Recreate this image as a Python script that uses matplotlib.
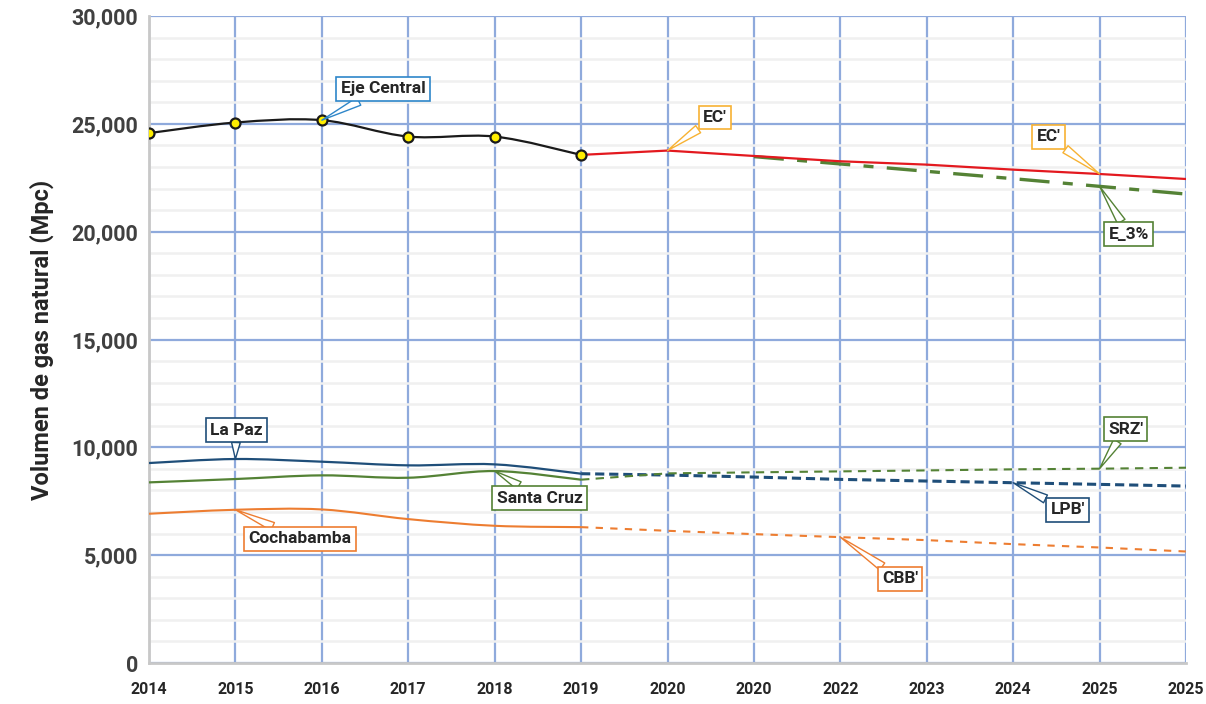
import numpy as np
import matplotlib
matplotlib.use("Agg")
import matplotlib.pyplot as plt
from matplotlib.path import Path
from matplotlib.patches import PathPatch
from matplotlib.ticker import MultipleLocator, FuncFormatter

plt.rcParams['font.family'] = ['Roboto', 'DejaVu Sans']

# category axis (as labelled in the original)
years = ["2014", "2015", "2016", "2017", "2018", "2019", "2020",
         "2020", "2022", "2023", "2024", "2025", "2025"]

# historical series (positions 0..5)
eje_central = [24570, 25060, 25170, 24410, 24410, 23560]
la_paz = [9272, 9458, 9334, 9164, 9210, 8777]
santa_cruz = [8375, 8530, 8700, 8590, 8900, 8500]
cochabamba = [6920, 7105, 7120, 6672, 6362, 6300]

# projections (positions 5..12)
ec_proj = [23560, 23760, 23510, 23264, 23108, 22876, 22674, 22442]
lpb_proj = [8777, 8715, 8622, 8514, 8437, 8359, 8282, 8204]
srz_proj = [8500, 8793, 8840, 8885, 8930, 8980, 9010, 9055]
cbb_proj = [6300, 6130, 5975, 5836, 5697, 5511, 5356, 5170]
# escenario 3% (positions 7..12)
e3_proj = [23480, 23140, 22798, 22457, 22101, 21744]

C_BLACK = "#1a1a1a"
C_RED = "#e3191f"
C_GREEN = "#548235"
C_BLUE = "#1f4e79"
C_ORANGE = "#ed7d31"
C_YELLOW = "#f7b233"
C_CALL = "#2e86c9"
GRID = "#8faadc"


def smooth_path(x, y):
    # Excel-like smoothed line as cubic bezier segments
    x = np.asarray(x, float)
    y = np.asarray(y, float)
    pts = np.column_stack([x, y])
    n = len(pts)
    verts = [pts[0]]
    codes = [Path.MOVETO]
    for i in range(n - 1):
        p0 = pts[i - 1] if i > 0 else pts[i]
        p1 = pts[i]
        p2 = pts[i + 1]
        p3 = pts[i + 2] if i + 2 < n else pts[i + 1]
        c1 = p1 + (p2 - p0) / 6.0
        c2 = p2 - (p3 - p1) / 6.0
        verts += [c1, c2, p2]
        codes += [Path.CURVE4] * 3
    return Path(verts, codes)


fig = plt.figure(figsize=(12.06, 7.04), dpi=100)
ax = fig.add_axes([149 / 1206, 41 / 704, 1037 / 1206, 647 / 704])

pos = np.arange(len(years))
h = pos[:6]

# grid
ax.yaxis.set_major_locator(MultipleLocator(5000))
ax.yaxis.set_minor_locator(MultipleLocator(1000))
ax.grid(axis='y', which='minor', color='#f0f0f0', lw=1.8, zorder=0)
ax.grid(axis='y', which='major', color=GRID, lw=1.6, zorder=0.5)
ax.set_xticks(pos)
ax.grid(axis='x', which='major', color=GRID, lw=1.6, zorder=0.5)
ax.set_axisbelow(True)

# historical smoothed lines
for vals, col, lw in [(eje_central, C_BLACK, 1.6), (la_paz, C_BLUE, 1.6),
                      (santa_cruz, C_GREEN, 1.6), (cochabamba, C_ORANGE, 1.5)]:
    ax.add_patch(PathPatch(smooth_path(h, vals), fc='none', ec=col, lw=lw, zorder=3))

# projections
ax.plot(pos[5:], ec_proj, color=C_RED, lw=1.6, zorder=3)
ax.plot(pos[7:], e3_proj, color=C_GREEN, lw=2.4, zorder=2.8,
        dashes=(9, 4, 3, 4))
ax.plot(pos[5:], lpb_proj, color=C_BLUE, lw=2.2, zorder=3, dashes=(3, 1.6))
ax.plot(pos[5:], srz_proj, color=C_GREEN, lw=1.5, zorder=3, dashes=(4, 3))
ax.plot(pos[5:], cbb_proj, color=C_ORANGE, lw=1.5, zorder=3, dashes=(3.5, 3.5))

# markers on historical Eje Central
ax.plot(h, eje_central, 'o', ms=7.2, mfc='#ffee00', mec=C_BLACK, mew=1.6, zorder=4)

ax.set_xlim(0, 12)
ax.set_ylim(0, 30000)
ax.set_xticklabels(years)
ax.tick_params(axis='x', length=0, pad=14, labelsize=11.5, labelcolor='#262626')
ax.tick_params(axis='y', which='both', length=0, pad=8, labelsize=15.5, labelcolor='#404040')
ax.yaxis.set_major_formatter(FuncFormatter(lambda v, p: f"{v:,.0f}"))
for lab in ax.get_xticklabels() + ax.get_yticklabels():
    lab.set_fontweight('bold')

for s in ['top', 'right']:
    ax.spines[s].set_visible(False)
ax.spines['left'].set_color('#c8c8c8')
ax.spines['left'].set_linewidth(2)
ax.spines['bottom'].set_color('#c8c8c8')
ax.spines['bottom'].set_linewidth(2)

ax.set_ylabel("Volumen de gas natural (Mpc)", fontsize=17, fontweight='bold',
              color='#262626', labelpad=12)

# callouts: label, target x, target y, text x, text y, colour
callouts = [
    ("Eje Central", 2, eje_central[2], 2.71, 26620, C_CALL),
    ("EC'", 6, ec_proj[1], 6.55, 25300, C_YELLOW),
    ("EC'", 11, ec_proj[6], 10.41, 24390, C_YELLOW),
    ("E_3%", 11, e3_proj[4], 11.34, 19890, C_GREEN),
    ("La Paz", 1, la_paz[1], 1.01, 10800, C_BLUE),
    ("Santa Cruz", 4, santa_cruz[4], 4.52, 7650, C_GREEN),
    ("Cochabamba", 1, cochabamba[1], 1.75, 5750, C_ORANGE),
    ("SRZ'", 11, srz_proj[6], 11.3, 10850, C_GREEN),
    ("LPB'", 10, lpb_proj[5], 10.63, 7095, C_BLUE),
    ("CBB'", 8, cbb_proj[3], 8.69, 3895, C_ORANGE),
]
for txt, tx, ty, lx, ly, col in callouts:
    ax.annotate(txt, xy=(tx, ty), xytext=(lx, ly), ha='center', va='center',
                fontsize=12.5, fontweight='bold', color='#262626', zorder=6,
                bbox=dict(boxstyle='square,pad=0.25', fc='white', ec=col, lw=1.2),
                arrowprops=dict(arrowstyle='wedge,tail_width=0.5', fc='white',
                                ec=col, lw=1, shrinkA=0, shrinkB=0))

fig.savefig("out.png", dpi=100)
